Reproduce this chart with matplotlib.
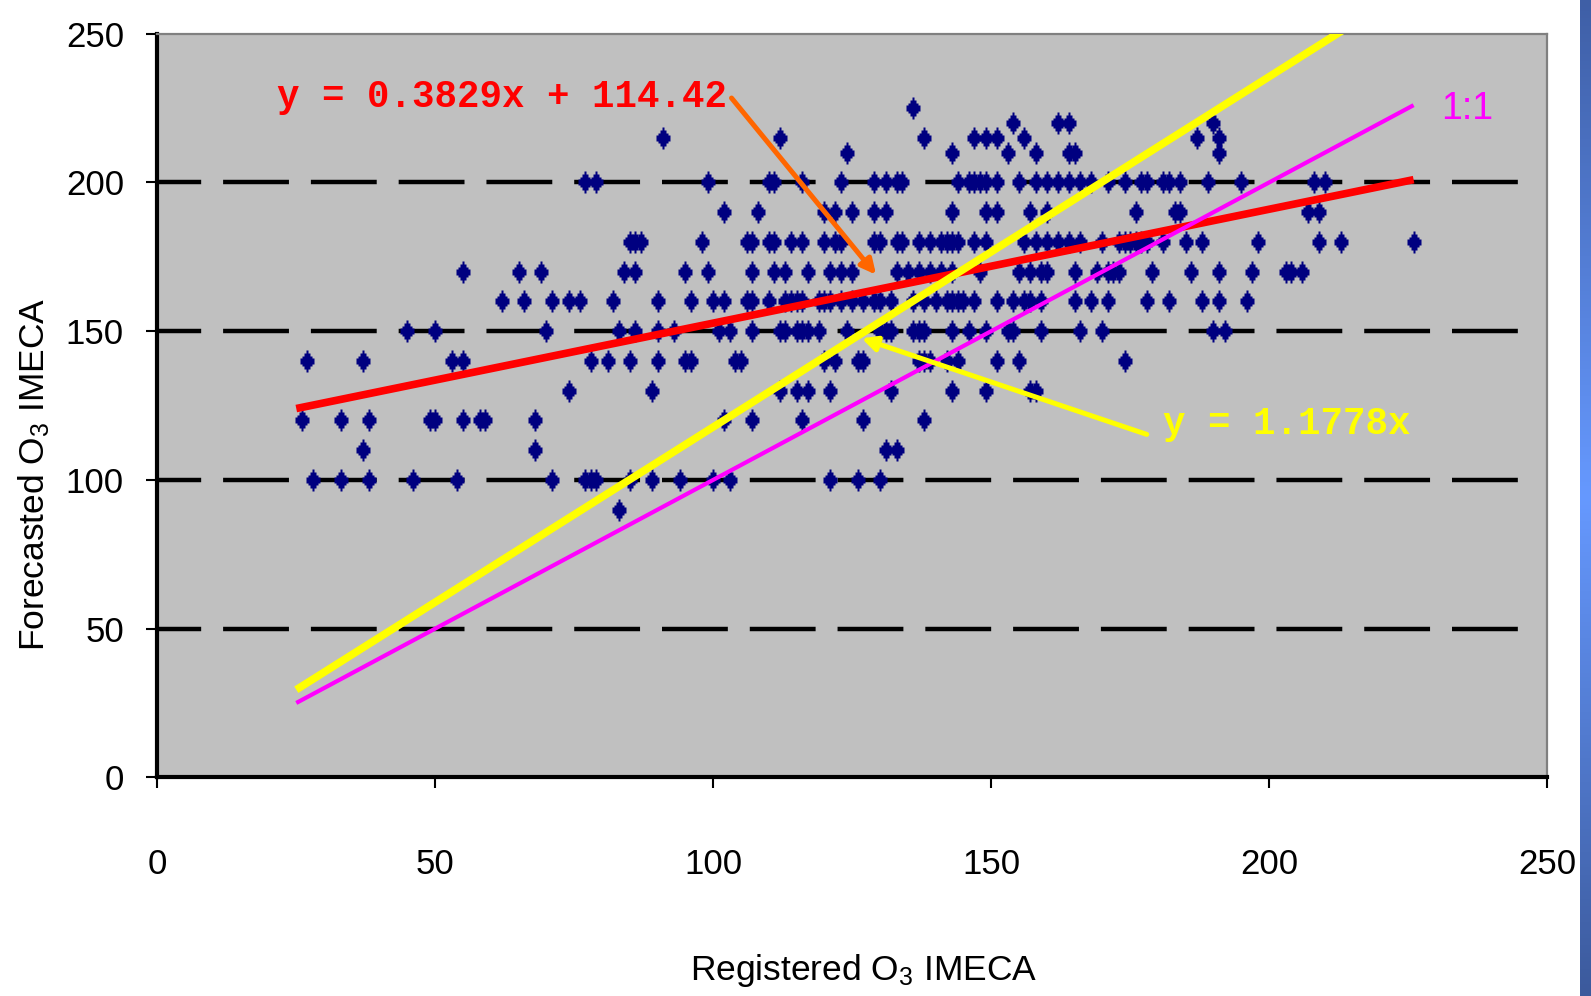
import matplotlib
matplotlib.use("Agg")
import matplotlib.pyplot as plt
import numpy as np
from matplotlib.path import Path
from matplotlib.colors import LinearSegmentedColormap

plt.rcParams["font.family"] = ["Liberation Sans", "DejaVu Sans"]
plt.rcParams["mathtext.default"] = "regular"
plt.rcParams["lines.scale_dashes"] = False

# registered O3 IMECA values, one list per forecasted value
x_225 = [136]
x_220 = [154, 162, 164, 190]
x_215 = [91, 112, 138, 147, 149, 151, 156, 187, 191]
x_210 = [124, 143, 153, 158, 164, 165, 191]
x_200 = [77, 79, 99, 110, 111, 116, 123, 129, 131, 133, 134, 144, 146, 147,
         148, 149, 151, 155, 158, 160, 162, 164, 166, 168, 171, 174, 177, 178,
         181, 182, 184, 189, 195, 208, 210]
x_190 = [102, 108, 120, 122, 125, 129, 131, 143, 149, 151, 157, 160, 176,
         183, 184, 207, 209]
x_180 = [85, 86, 87, 98, 106, 107, 110, 111, 114, 116, 120, 122, 123, 129,
         130, 133, 134, 137, 139, 141, 142, 143, 144, 147, 149, 156, 158, 160,
         162, 164, 166, 170, 173, 174, 175, 176, 177, 178, 181, 185, 188, 198,
         209, 213, 226]
x_170 = [55, 65, 69, 84, 86, 95, 99, 107, 111, 113, 117, 121, 123, 125, 133,
         135, 137, 139, 141, 143, 148, 155, 157, 159, 160, 165, 169, 171, 172,
         173, 179, 186, 191, 197, 203, 204, 206]
x_160 = [62, 66, 71, 74, 76, 82, 90, 96, 100, 102, 106, 107, 110, 113, 114,
         115, 116, 119, 120, 121, 123, 125, 127, 129, 130, 132, 136, 138, 140,
         142, 143, 144, 145, 147, 151, 154, 156, 157, 159, 165, 168, 171, 178,
         182, 188, 191, 196]
x_150 = [45, 50, 70, 83, 86, 90, 93, 101, 103, 107, 112, 113, 115, 116, 117,
         119, 124, 130, 131, 132, 136, 137, 138, 143, 146, 149, 153, 154, 159,
         166, 170, 190, 192]
x_140 = [27, 37, 53, 55, 78, 81, 85, 90, 95, 96, 104, 105, 120, 122, 126,
         127, 137, 138, 139, 142, 144, 151, 155, 174]
x_130 = [74, 89, 112, 115, 117, 121, 132, 143, 149, 157, 158]
x_120 = [26, 33, 38, 49, 50, 55, 58, 59, 68, 102, 107, 116, 127, 138]
x_110 = [37, 68, 131, 133]
x_100 = [28, 33, 38, 46, 54, 71, 77, 78, 79, 85, 89, 94, 100, 103, 121, 126, 130]
x_90 = [83]

rows = [(225, x_225), (220, x_220), (215, x_215), (210, x_210), (200, x_200),
        (190, x_190), (180, x_180), (170, x_170), (160, x_160), (150, x_150),
        (140, x_140), (130, x_130), (120, x_120), (110, x_110), (100, x_100),
        (90, x_90)]
registered = np.concatenate([np.array(xs, float) for _, xs in rows])
forecasted = np.concatenate([np.full(len(xs), y, float) for y, xs in rows])

fit_slope, fit_icept = 0.3829, 114.42
origin_slope = 1.1778
line_x = np.array([25, 226], float)
ticks = [0, 50, 100, 150, 200, 250]

fig = plt.figure(figsize=(15.91, 9.96), dpi=100)
ax = fig.add_axes([0.09887, 0.21958, 0.87348, 0.74649])
ax.set_facecolor("#C0C0C0")

for g in ticks[1:-1]:
    ax.axhline(g, xmin=0, xmax=0.9937, color="black", lw=3.2,
               linestyle=(15.6, (47.4, 15.8)), zorder=1)

# excel-like stepped diamond marker with spikes
half = [(1, 11.5), (1, 8.5), (3, 8.5), (3, 5.5), (5, 5.5), (5, 3), (7, 3),
        (7, -3), (5, -3), (5, -5.5), (3, -5.5), (3, -8.5), (1, -8.5), (1, -11.5)]
mverts = half + [(-vx, vy) for vx, vy in reversed(half)] + [half[0]]
marker = Path(mverts, closed=True)
ax.plot(registered, forecasted, linestyle="none", marker=marker, ms=16.5,
        mfc="#000080", mec="none", zorder=2)

ax.plot(line_x, fit_slope * line_x + fit_icept, color="#FF0000", lw=5.5,
        solid_capstyle="butt", zorder=3)
ax.plot(line_x, line_x, color="#FF00FF", lw=3.0, solid_capstyle="butt", zorder=4)
ax.plot(line_x, origin_slope * line_x, color="#FFFF00", lw=5.5,
        solid_capstyle="butt", zorder=5)

mono = dict(family="Liberation Mono", weight="bold", size=27)
ax.text(21.5, 225.4, "y = 0.3829x + 114.42", color="#FF0000", va="baseline",
        ha="left", zorder=6, **mono)
ax.text(180.9, 115.4, "y = 1.1778x", color="#FFFF00", va="baseline",
        ha="left", zorder=6, **mono)
ax.text(231.0, 221.5, "1:1", color="#FF00FF", fontsize=27, va="baseline",
        ha="left", zorder=6)

ax.annotate("", xy=(129.3, 169.0), xytext=(103.3, 228.4),
            arrowprops=dict(arrowstyle="-|>", color="#FF6600", lw=3.6,
                            mutation_scale=22, shrinkA=0, shrinkB=0), zorder=6)
ax.annotate("", xy=(126.7, 147.6), xytext=(178.0, 115.3),
            arrowprops=dict(arrowstyle="-|>", color="#FFFF00", lw=3.6,
                            mutation_scale=22, shrinkA=0, shrinkB=0), zorder=6)

ax.set_xlim(0, 250)
ax.set_ylim(0, 250)
ax.set_xticks(ticks)
ax.set_yticks(ticks)
ax.tick_params(direction="out", length=8, width=1.5, colors="black", labelsize=25)
ax.tick_params(axis="x", pad=43)
ax.tick_params(axis="y", pad=16)

for side in ("left", "bottom"):
    ax.spines[side].set_linewidth(3)
    ax.spines[side].set_color("black")
for side in ("top", "right"):
    ax.spines[side].set_linewidth(1.6)
    ax.spines[side].set_color("#808080")

ax.set_xlabel("Registered O$_3$ IMECA", fontsize=25.5, va="center")
ax.xaxis.set_label_coords(0.5085, -0.26)
ax.set_ylabel("Forecasted O$_3$ IMECA", fontsize=25.5, va="center")
ax.yaxis.set_label_coords(-0.0887, 0.408)

# blue slide edge on the right
stripe = fig.add_axes([1580 / 1591, 0, 11 / 1591, 1])
grad = np.linspace(0, 1, 256).reshape(-1, 1)
cmap = LinearSegmentedColormap.from_list("edge", ["#3F5FA6", "#6699FF", "#3C5A9C"])
stripe.imshow(grad, aspect="auto", cmap=cmap)
stripe.axis("off")

fig.savefig("out.png", dpi=100)
